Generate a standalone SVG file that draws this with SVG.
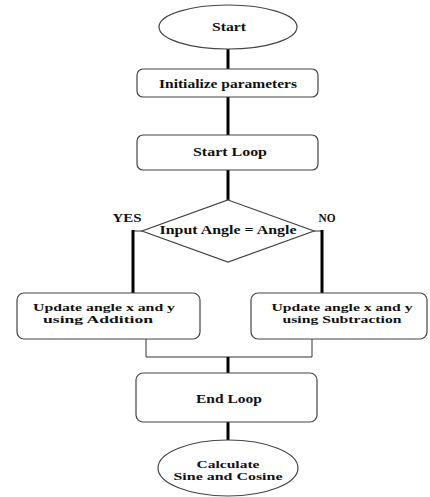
<svg xmlns="http://www.w3.org/2000/svg" width="430" height="497" viewBox="0 0 430 497">
<style>
.s{fill:#fff;stroke:#444;stroke-width:1.2}
.t{font-family:"Liberation Serif",serif;font-weight:bold;font-size:12.5px;fill:#111;text-anchor:middle}
.m{font-size:10.5px}
.k{stroke:#000;stroke-width:3;fill:none}
.n{stroke:#333;stroke-width:1;fill:none}
</style>
<rect width="430" height="497" fill="#fff"/>
<g id="connectors">
<line class="k" x1="228" y1="49" x2="228" y2="69"/>
<line class="k" x1="228" y1="97" x2="228" y2="135"/>
<line class="k" x1="228" y1="170" x2="228" y2="200"/>
<polyline class="n" points="142,231 133,231"/>
<line class="k" x1="133" y1="230" x2="133" y2="293"/>
<polyline class="n" points="313,231 322,231"/>
<line class="k" x1="322" y1="230" x2="322" y2="293"/>
<polyline class="n" points="146,339 146,357 312,357 312,339"/>
<line class="k" x1="228" y1="357" x2="228" y2="373"/>
<line class="k" x1="228" y1="422" x2="228" y2="440"/>
</g>
<g id="start">
<ellipse class="s" cx="228" cy="27" rx="69" ry="22"/>
<text class="t" x="229" y="31" textLength="34" lengthAdjust="spacingAndGlyphs">Start</text>
</g>
<g id="init">
<rect class="s" x="137" y="69" width="181" height="28" rx="6"/>
<text class="t" x="228" y="88" textLength="138" lengthAdjust="spacingAndGlyphs">Initialize parameters</text>
</g>
<g id="startloop">
<rect class="s" x="137" y="135" width="181" height="35" rx="6"/>
<text class="t" x="230" y="156" textLength="74" lengthAdjust="spacingAndGlyphs">Start Loop</text>
</g>
<g id="decision">
<polygon class="s" points="228,200 314,231 228,262 142,231"/>
<text class="t" x="228" y="234" textLength="137" lengthAdjust="spacingAndGlyphs">Input Angle = Angle</text>
<text class="t" x="127" y="222" textLength="29" lengthAdjust="spacingAndGlyphs">YES</text>
<text class="t" x="327" y="222" textLength="17" lengthAdjust="spacingAndGlyphs">NO</text>
</g>
<g id="addition">
<rect class="s" x="17" y="293" width="183" height="46" rx="7"/>
<text class="t m" x="104" y="311" textLength="142" lengthAdjust="spacingAndGlyphs">Update angle x and y</text>
<text class="t m" x="98" y="323" textLength="110" lengthAdjust="spacingAndGlyphs">using Addition</text>
</g>
<g id="subtraction">
<rect class="s" x="251" y="293" width="176" height="46" rx="7"/>
<text class="t m" x="342" y="311" textLength="141" lengthAdjust="spacingAndGlyphs">Update angle x and y</text>
<text class="t m" x="342" y="323" textLength="119" lengthAdjust="spacingAndGlyphs">using Subtraction</text>
</g>
<g id="endloop">
<rect class="s" x="136" y="373" width="181" height="49" rx="7"/>
<text class="t" x="229" y="403" textLength="66" lengthAdjust="spacingAndGlyphs">End Loop</text>
</g>
<g id="calc">
<ellipse class="s" cx="228" cy="468" rx="70" ry="28"/>
<text class="t m" x="228" y="468" textLength="63" lengthAdjust="spacingAndGlyphs">Calculate</text>
<text class="t m" x="228" y="480" textLength="109" lengthAdjust="spacingAndGlyphs">Sine and Cosine</text>
</g>
</svg>
